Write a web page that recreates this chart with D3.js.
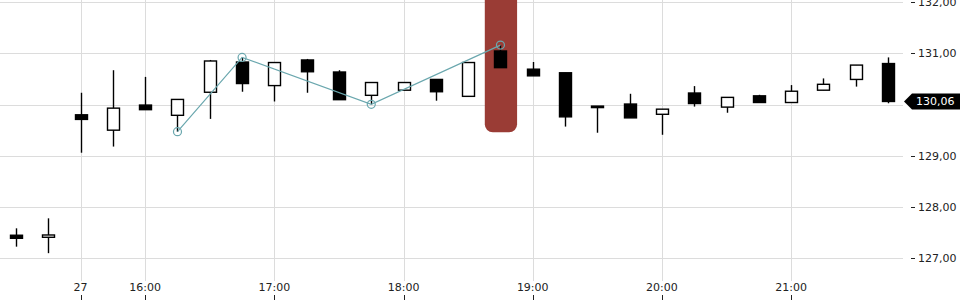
<!DOCTYPE html>
<html>
<head>
<meta charset="utf-8">
<script src="https://cdn.jsdelivr.net/npm/d3@7"></script>
<style>
  body { margin: 0; background: #fff; }
  svg { display: block; font-family: "DejaVu Sans", sans-serif; }
</style>
</head>
<body>
<svg id="chart" width="960" height="300"></svg>
<script>
// candles, 15 min each (index based, session gap between index 1 and 2)
const opens  = [127.45,127.41,129.80,129.50,129.99,129.79,130.24,130.83,130.37,130.87,130.635,130.18,130.28,130.49,130.16,131.045,130.69,130.62,129.97,130.01,129.81,130.225,129.95,130.17,130.04,130.28,130.49,130.80];
const highs  = [127.585,127.78,130.23,130.67,130.54,130.10,130.87,130.92,130.82,130.89,130.67,130.43,130.43,130.49,130.82,131.16,130.83,130.62,129.97,130.21,129.91,130.36,130.14,130.19,130.38,130.51,130.77,130.92];
const lows   = [127.227,127.10,129.06,129.18,129.90,129.47,129.72,130.25,130.06,130.23,130.095,130.005,130.28,130.075,130.16,130.72,130.56,129.57,129.45,129.74,129.41,129.96,129.84,130.04,130.04,130.28,130.35,130.025];
const closes = [127.39,127.455,129.71,129.93,129.90,130.10,130.85,130.41,130.82,130.64,130.095,130.43,130.43,130.25,130.82,130.72,130.56,129.76,129.95,129.74,129.91,130.02,130.14,130.04,130.26,130.395,130.77,130.06];

// zigzag line points (candle index, price)
const zigIdx = [5, 7, 11, 15];
const zigVal = [129.47, 130.92, 130.005, 131.16];

// axis ticks
const xTickIdx = [2, 4, 8, 12, 16, 20, 24];
const xTickLabels = ["27", "16:00", "17:00", "18:00", "19:00", "20:00", "21:00"];
const yTicks = [127, 128, 129, 130, 131, 132];

const highlightIdx = 15;
const highlightLow = 129.46;
const lastPrice = 130.06;

const svg = d3.select("#chart");
const x = d3.scaleLinear().domain([0, 27]).range([16, 888]);
const y = d3.scaleLinear().domain([127, 131]).range([258.3, 53.3]);
const step = x(1) - x(0);
const bodyW = 12;
const fmt = v => v.toFixed(2).replace(".", ",");

// grid
const grid = svg.append("g");
grid.selectAll(".hg").data(yTicks).enter().append("line")
    .attr("x1", 0).attr("x2", 903)
    .attr("y1", d => Math.round(y(d)) + 0.5).attr("y2", d => Math.round(y(d)) + 0.5)
    .attr("stroke", "#dcdcdc").attr("stroke-width", 1);
grid.selectAll(".vg").data(xTickIdx).enter().append("line")
    .attr("x1", d => Math.round(x(d)) + 0.5).attr("x2", d => Math.round(x(d)) + 0.5)
    .attr("y1", 0).attr("y2", 281)
    .attr("stroke", "#dcdcdc").attr("stroke-width", 1);

// highlight
svg.append("rect")
    .attr("x", x(highlightIdx) - step / 2 + 0.5)
    .attr("width", step)
    .attr("y", -12)
    .attr("height", y(highlightLow) + 12)
    .attr("rx", 8)
    .attr("fill", "#9a3c35");

// candles
const candles = d3.range(opens.length).map(i => ({i, o: opens[i], h: highs[i], l: lows[i], c: closes[i]}));
const cg = svg.append("g");
cg.selectAll(".wick").data(candles).enter().append("line")
    .attr("x1", d => Math.round(x(d.i)) + 0.5).attr("x2", d => Math.round(x(d.i)) + 0.5)
    .attr("y1", d => y(d.h)).attr("y2", d => y(d.l))
    .attr("stroke", "#000").attr("stroke-width", 1.4);
cg.selectAll(".body").data(candles).enter().append("rect")
    .attr("x", d => Math.round(x(d.i)) + 0.5 - bodyW / 2)
    .attr("width", bodyW)
    .attr("y", d => y(Math.max(d.o, d.c)))
    .attr("height", d => Math.max(1.5, Math.abs(y(d.o) - y(d.c))))
    .attr("fill", d => d.c >= d.o ? "#fff" : "#000")
    .attr("stroke", "#000").attr("stroke-width", 1.4);

// zigzag
const zig = zigIdx.map((d, k) => ({i: d, v: zigVal[k]}));
svg.append("path").datum(zig)
    .attr("d", d3.line().x(d => x(d.i)).y(d => y(d.v)))
    .attr("fill", "none").attr("stroke", "#6aa7ae").attr("stroke-width", 1.2);
svg.selectAll(".zc").data(zig).enter().append("circle")
    .attr("cx", d => x(d.i)).attr("cy", d => y(d.v)).attr("r", 4)
    .attr("fill", "none").attr("stroke", "#6aa7ae").attr("stroke-width", 1.2);

// right axis (the 130 label sits under the last price flag)
const ra = svg.append("g");
ra.selectAll(".rt").data(yTicks).enter().append("line")
    .attr("x1", 911).attr("x2", 915)
    .attr("y1", d => Math.round(y(d)) + 0.5).attr("y2", d => Math.round(y(d)) + 0.5)
    .attr("stroke", "#222");
ra.selectAll(".rl").data(yTicks.filter(d => Math.abs(y(d) - y(lastPrice)) > 12)).enter().append("text")
    .attr("x", 918).attr("y", d => y(d) + 4)
    .attr("font-size", 11).attr("fill", "#222")
    .text(d => fmt(d));

// last price flag
const ly = y(lastPrice);
svg.append("path")
    .attr("d", `M904,${ly} L912,${ly - 8} L960,${ly - 8} L960,${ly + 8} L912,${ly + 8} Z`)
    .attr("fill", "#000");
svg.append("text")
    .attr("x", 916).attr("y", ly + 4)
    .attr("font-size", 11).attr("fill", "#fff")
    .text(fmt(lastPrice));

// bottom axis
const ba = svg.append("g");
ba.selectAll(".bt").data(xTickIdx).enter().append("line")
    .attr("x1", d => Math.round(x(d)) + 0.5).attr("x2", d => Math.round(x(d)) + 0.5)
    .attr("y1", 295).attr("y2", 300)
    .attr("stroke", "#222");
ba.selectAll(".bl").data(xTickIdx).enter().append("text")
    .attr("x", d => x(d)).attr("y", 291)
    .attr("text-anchor", "middle")
    .attr("font-size", 11).attr("fill", "#222")
    .text((d, k) => xTickLabels[k]);
</script>
</body>
</html>
